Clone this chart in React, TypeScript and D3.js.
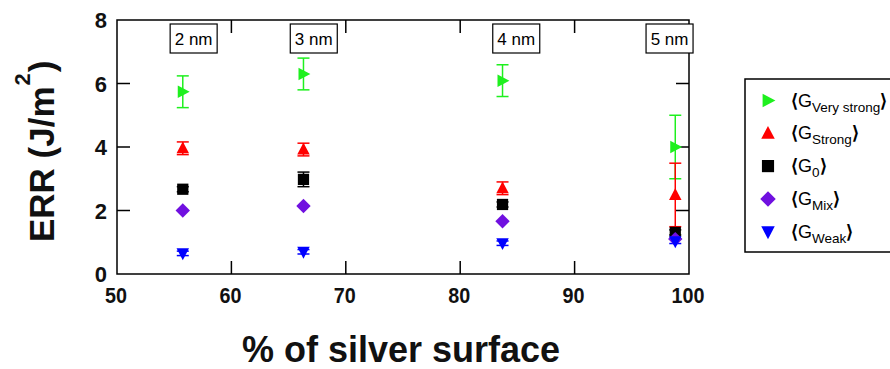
import React from "react";
import * as d3 from "d3";

const xValues = [55.75, 66.3, 83.7, 98.8];
const sizeLabels = ["2 nm", "3 nm", "4 nm", "5 nm"];
const sizeLabelX = [56.7, 67.2, 84.9, 98.3];

const veryStrong = [5.74, 6.3, 6.09, 4.0];
const veryStrongErr = [0.5, 0.5, 0.5, 1.0];
const strong = [3.96, 3.92, 2.7, 2.49];
const strongErr = [0.2, 0.2, 0.2, 1.0];
const g0 = [2.67, 2.98, 2.19, 1.31];
const g0Err = [0.08, 0.23, 0.08, 0.08];
const mix = [2.0, 2.14, 1.66, 1.1];
const mixErr = [0, 0, 0, 0];
const weak = [0.65, 0.7, 0.97, 1.03];
const weakErr = [0.07, 0.07, 0.07, 0.07];

const xTicks = [50, 60, 70, 80, 90, 100];
const yTicks = [0, 2, 4, 6, 8];

const W = 890, H = 369;
const L = 117, R = 689, T = 20, B = 274;

const series = [
  { name: "Very strong", values: veryStrong, err: veryStrongErr, color: "#1ef01e", shape: "right" },
  { name: "Strong", values: strong, err: strongErr, color: "#ff0000", shape: "up" },
  { name: "0", values: g0, err: g0Err, color: "#000000", shape: "square" },
  { name: "Mix", values: mix, err: mixErr, color: "#7010e0", shape: "diamond" },
  { name: "Weak", values: weak, err: weakErr, color: "#0000ff", shape: "down" },
];

function markerPath(shape: string, s: number): string {
  const h = s / 2;
  switch (shape) {
    case "right": return `M${-h * 0.8},${-h} L${h * 1.1},0 L${-h * 0.8},${h} Z`;
    case "up": return `M0,${-h * 1.1} L${h},${h * 0.8} L${-h},${h * 0.8} Z`;
    case "down": return `M0,${h * 1.1} L${h},${-h * 0.8} L${-h},${-h * 0.8} Z`;
    case "square": return `M${-h * 0.9},${-h * 0.9} H${h * 0.9} V${h * 0.9} H${-h * 0.9} Z`;
    case "diamond": return `M0,${-h * 1.15} L${h * 1.15},0 L0,${h * 1.15} L${-h * 1.15},0 Z`;
  }
  return "";
}

export default function App() {
  const x = d3.scaleLinear().domain([50, 100]).range([L, R]);
  const y = d3.scaleLinear().domain([0, 8]).range([B, T]);
  const font = "Liberation Sans, Arial, sans-serif";
  const tickLen = 13;
  const cap = 6;

  return (
    <svg width={W} height={H} style={{ position: "absolute", left: 0, top: 0, background: "#fff" }} fontFamily={font}>
      <rect x={0} y={0} width={W} height={H} fill="#fff" />
      <rect x={L} y={T} width={R - L} height={B - T} fill="none" stroke="#000" strokeWidth={1.5} />
      {xTicks.map((t) => (
        <g key={"xt" + t}>
          {t > 50 && t < 100 && (
            <>
              <line x1={x(t)} x2={x(t)} y1={B} y2={B - tickLen} stroke="#000" strokeWidth={1.5} />
              <line x1={x(t)} x2={x(t)} y1={T} y2={T + tickLen} stroke="#000" strokeWidth={1.5} />
            </>
          )}
          <text x={x(t) - 1} y={B + 29} textAnchor="middle" fontSize={21.5} fontWeight="bold" fill="#111"
            transform={`translate(${x(t) - 1},0) scale(0.92,1) translate(${-(x(t) - 1)},0)`}>{t}</text>
        </g>
      ))}
      {yTicks.map((t) => (
        <g key={"yt" + t}>
          {t > 0 && t < 8 && (
            <>
              <line x1={L} x2={L + tickLen} y1={y(t)} y2={y(t)} stroke="#000" strokeWidth={1.5} />
              <line x1={R} x2={R - tickLen} y1={y(t)} y2={y(t)} stroke="#000" strokeWidth={1.5} />
            </>
          )}
          <text x={L - 10} y={y(t) + 8} textAnchor="end" fontSize={22} fontWeight="bold" fill="#111">{t}</text>
        </g>
      ))}
      {sizeLabels.map((s, i) => (
        <g key={s}>
          <rect x={x(sizeLabelX[i]) - 23.5} y={24} width={47} height={29} fill="#fff" stroke="#000" strokeWidth={1.2} />
          <text x={x(sizeLabelX[i])} y={45} textAnchor="middle" fontSize={17} fill="#000">{s}</text>
        </g>
      ))}
      {series.map((s) =>
        s.values.map((v, i) =>
          s.err[i] > 0 ? (
            <g key={s.name + "e" + i} stroke={s.color} strokeWidth={1.5}>
              <line x1={x(xValues[i])} x2={x(xValues[i])} y1={y(v - s.err[i])} y2={y(v + s.err[i])} />
              <line x1={x(xValues[i]) - cap} x2={x(xValues[i]) + cap} y1={y(v - s.err[i])} y2={y(v - s.err[i])} />
              <line x1={x(xValues[i]) - cap} x2={x(xValues[i]) + cap} y1={y(v + s.err[i])} y2={y(v + s.err[i])} />
            </g>
          ) : null
        )
      )}
      {series.map((s) =>
        s.values.map((v, i) => (
          <path key={s.name + "m" + i} d={markerPath(s.shape, 12.5)} transform={`translate(${x(xValues[i])},${y(v)})`} fill={s.color} />
        ))
      )}
      <text transform={`translate(54,242) rotate(-90)`} textAnchor="start" fontSize={35} fontWeight="bold" fill="#111">
        ERR (J/m<tspan dy={-24} dx={1} fontSize={22}>2</tspan><tspan dy={24} dx={1}>)</tspan>
      </text>
      <text x={(L + R) / 2 - 2} y={362} textAnchor="middle" fontSize={36} fontWeight="bold" fill="#111">% of silver surface</text>
      <rect x={745} y={79} width={150} height={173} fill="#fff" stroke="#000" strokeWidth={1.5} />
      {series.map((s, i) => {
        const cy = 100.5 + i * 32.8;
        return (
          <g key={"lg" + i}>
            <path d={markerPath(s.shape, 13.5)} transform={`translate(768,${cy})`} fill={s.color} />
            <text x={791} y={cy + 6} fontSize={18} fill="#000">
              <tspan fontWeight="bold">⟨</tspan>G<tspan fontSize={13.5} dy={5}>{s.name}</tspan><tspan dy={-5} fontWeight="bold">⟩</tspan>
            </text>
          </g>
        );
      })}
    </svg>
  );
}
